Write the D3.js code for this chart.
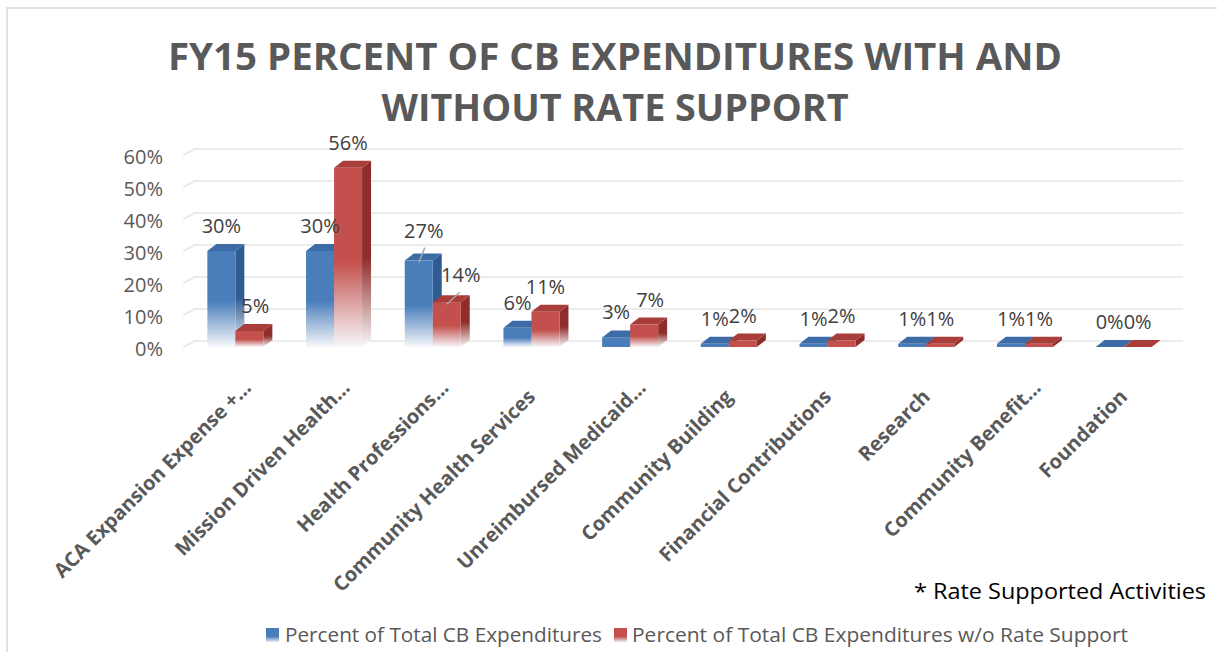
<!DOCTYPE html>
<html>
<head>
<meta charset="utf-8">
<script src="https://cdn.jsdelivr.net/npm/d3@7"></script>
<style>
  html, body { margin: 0; padding: 0; background: #fff; }
  svg { display: block; font-family: "Open Sans", "Noto Sans", sans-serif; }
</style>
</head>
<body>
<svg id="chart" width="1217" height="652"></svg>
<script>
const categories = [
  "ACA Expansion Expense +...",
  "Mission Driven Health...",
  "Health Professions...",
  "Community Health Services",
  "Unreimbursed Medicaid...",
  "Community Building",
  "Financial Contributions",
  "Research",
  "Community Benefit...",
  "Foundation"
];
const withRate = [30, 30, 27, 6, 3, 1, 1, 1, 1, 0];
const withoutRate = [5, 56, 14, 11, 7, 2, 2, 1, 1, 0];
const yTicks = [0, 10, 20, 30, 40, 50, 60];
const seriesNames = [
  "Percent of Total CB Expenditures",
  "Percent of Total CB Expenditures w/o Rate Support"
];
const titleLines = ["FY15 PERCENT OF CB EXPENDITURES WITH AND", "WITHOUT RATE SUPPORT"];
const footnote = "* Rate Supported Activities";

const palette = [
  { front: "#4a7ebb", side: "#2e5b91", top: "#3c6ba6" },
  { front: "#c3504c", side: "#8e2d2a", top: "#a83d3a" }
];
// 3D depth of the columns
const DX = 9, DY = -7;
const BAR_W = 28;

const svg = d3.select("#chart");
const defs = svg.append("defs");

palette.forEach((p, i) => {
  [["front", p.front], ["side", p.side]].forEach(([face, color]) => {
    const g = defs.append("linearGradient")
      .attr("id", `grad-${face}-${i}`)
      .attr("x1", 0).attr("y1", 0).attr("x2", 0).attr("y2", 1);
    g.append("stop").attr("offset", 0).attr("stop-color", color);
    g.append("stop").attr("offset", 0.52).attr("stop-color", color);
    g.append("stop").attr("offset", 1).attr("stop-color", "#f7f8fb");
  });
  const lg = defs.append("linearGradient")
    .attr("id", `grad-legend-${i}`)
    .attr("x1", 0).attr("y1", 0).attr("x2", 0).attr("y2", 1);
  lg.append("stop").attr("offset", 0).attr("stop-color", p.front);
  lg.append("stop").attr("offset", 0.6).attr("stop-color", p.front);
  lg.append("stop").attr("offset", 1).attr("stop-color", "#e9eef6");
});

// chart frame
svg.append("rect")
  .attr("x", 7).attr("y", 8)
  .attr("width", 1230).attr("height", 660)
  .attr("fill", "#fff")
  .attr("stroke", "#d9d9d9")
  .attr("stroke-width", 1.5);

// title
svg.append("g")
  .selectAll("text")
  .data(titleLines)
  .join("text")
  .attr("x", 615)
  .attr("y", (d, i) => 70 + i * 51)
  .attr("text-anchor", "middle")
  .attr("font-size", 38)
  .attr("font-weight", 700)
  .attr("fill", "#595959")
  .attr("textLength", (d, i) => i === 0 ? 894 : 467)
  .attr("lengthAdjust", "spacingAndGlyphs")
  .text((d) => d);

const x = d3.scaleBand().domain(categories).range([186, 1173]).padding(0);
const y = d3.scaleLinear().domain([0, 60]).range([347, 155]);
const cx = (c) => x(c) + x.bandwidth() / 2;

// gridlines on the back wall with a short floor slant on the left
const grid = svg.append("g");
yTicks.forEach((t) => {
  grid.append("path")
    .attr("d", `M${x.range()[0] - 3},${y(t)} L${x.range()[0] + 9},${y(t) + DY + 1} L1183,${y(t) + DY + 1}`)
    .attr("fill", "none")
    .attr("stroke", "#ececec")
    .attr("stroke-width", 2);
});

// y axis labels
const yAxis = d3.axisLeft(y).tickValues(yTicks).tickFormat((d) => d + "%").tickSize(0).tickPadding(0);
const yAxisG = svg.append("g").attr("transform", "translate(163,2)").call(yAxis);
yAxisG.select(".domain").remove();
yAxisG.selectAll("text")
  .attr("font-family", "'Open Sans', sans-serif")
  .attr("font-size", 20)
  .attr("fill", "#595959");

// bars
const series = [withRate, withoutRate];
const bars = svg.append("g");
categories.forEach((cat, ci) => {
  series.forEach((vals, si) => {
    const v = vals[ci];
    const x0 = si === 0 ? cx(cat) - BAR_W : cx(cat);
    const x1 = x0 + BAR_W;
    const yt = y(v);
    const yb = y(0);
    const h = yb - yt;
    const p = palette[si];
    const g = bars.append("g");
    const tall = h > 12;
    // side face
    g.append("path")
      .attr("d", `M${x1},${yt} L${x1 + DX},${yt + DY} L${x1 + DX},${yb + DY} L${x1},${yb} Z`)
      .attr("fill", tall ? `url(#grad-side-${si})` : p.side);
    // front face
    if (h > 0) {
      g.append("rect")
        .attr("x", x0).attr("y", yt)
        .attr("width", BAR_W).attr("height", h)
        .attr("fill", tall ? `url(#grad-front-${si})` : p.front);
    }
    // top face
    g.append("path")
      .attr("d", `M${x0},${yt} L${x0 + DX},${yt + DY} L${x1 + DX},${yt + DY} L${x1},${yt} Z`)
      .attr("fill", p.top);
  });
});

// data labels (two were dragged off their default spot, with leader lines)
const moved = { "2-0": [5, -5], "2-1": [14, -2] };
const labels = svg.append("g");
categories.forEach((cat, ci) => {
  series.forEach((vals, si) => {
    const v = vals[ci];
    const fx = si === 0 ? cx(cat) - BAR_W / 2 : cx(cat) + BAR_W / 2;
    const fy = y(v);
    const nudge = moved[`${ci}-${si}`] || [0, 0];
    const lx = fx + nudge[0] + (si === 1 && v < 10 && v > 3 ? 6 : 0);
    const ly = fy - 25 + nudge[1];
    if (moved[`${ci}-${si}`]) {
      labels.append("line")
        .attr("x1", lx + (si === 0 ? 1 : -1)).attr("y1", ly + 17)
        .attr("x2", fx).attr("y2", fy + 2)
        .attr("stroke", "#a6a6a6")
        .attr("stroke-width", 1.5);
    }
    labels.append("text")
      .attr("x", lx)
      .attr("y", ly)
      .attr("dy", "0.35em")
      .attr("text-anchor", "middle")
      .attr("font-size", 20)
      .attr("fill", "#404040")
      .text(v + "%");
  });
});

// category labels, rotated; truncated names sit a little higher and further right
svg.append("g")
  .selectAll("text")
  .data(categories)
  .join("text")
  .attr("transform", (d) => d.endsWith("...")
    ? `translate(${cx(d) + 17},${389}) rotate(-45)`
    : `translate(${cx(d) + 5},${398}) rotate(-45)`)
  .attr("text-anchor", "end")
  .attr("font-size", 20)
  .attr("font-weight", 700)
  .attr("fill", "#595959")
  .text((d) => d);

// footnote
svg.append("text")
  .attr("x", 914).attr("y", 599)
  .attr("font-size", 22)
  .attr("fill", "#000")
  .attr("textLength", 292)
  .attr("lengthAdjust", "spacingAndGlyphs")
  .text(footnote);

// legend
const legend = svg.append("g");
const legendItems = [
  { sq: 266, tx: 285, len: 317 },
  { sq: 614, tx: 632, len: 496 }
];
seriesNames.forEach((name, i) => {
  legend.append("rect")
    .attr("x", legendItems[i].sq).attr("y", 628)
    .attr("width", 13).attr("height", 14)
    .attr("fill", `url(#grad-legend-${i})`);
  legend.append("text")
    .attr("x", legendItems[i].tx).attr("y", 642)
    .attr("font-size", 20)
    .attr("fill", "#595959")
    .attr("textLength", legendItems[i].len)
    .attr("lengthAdjust", "spacingAndGlyphs")
    .text(name);
});
</script>
</body>
</html>
